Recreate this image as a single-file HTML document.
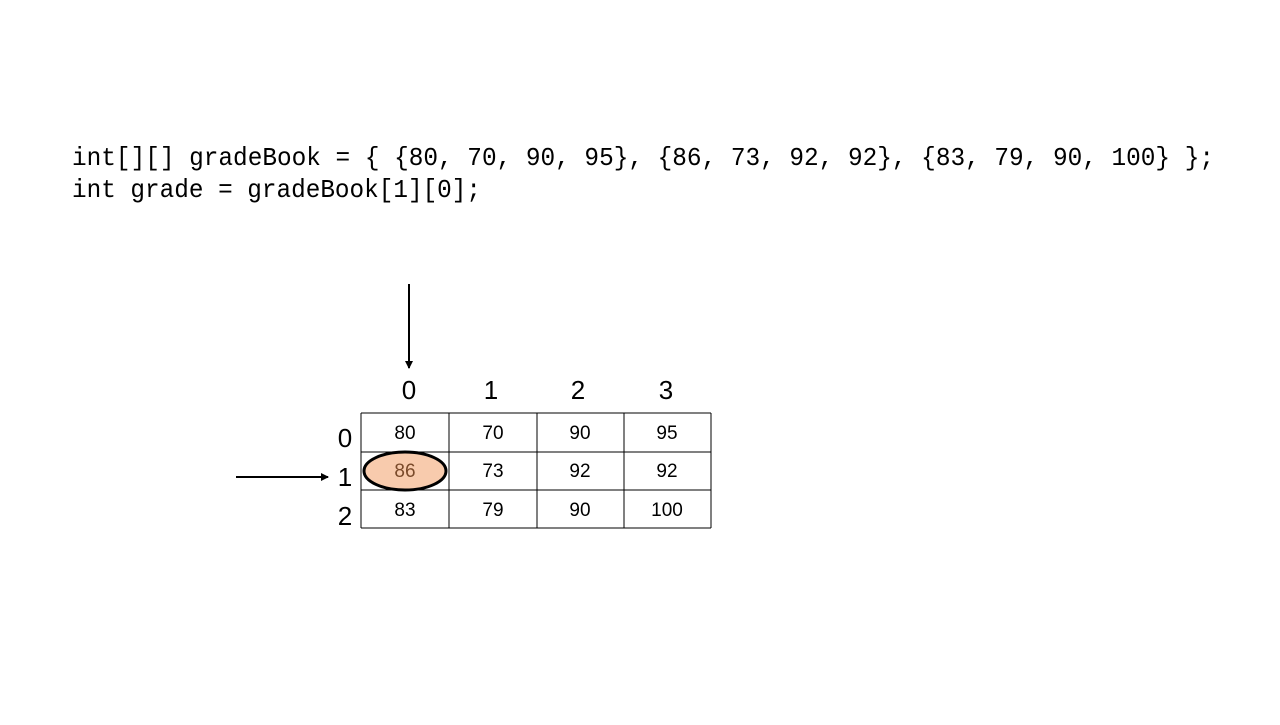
<!DOCTYPE html>
<html><head><style>
body{margin:0;width:1280px;height:720px;background:#fff;overflow:hidden}
</style></head><body>
<svg width="1280" height="720" xmlns="http://www.w3.org/2000/svg">
<defs><marker id="a" markerWidth="8" markerHeight="8" refX="7" refY="4" orient="auto" markerUnits="userSpaceOnUse"><path d="M0,0 L8,4 L0,8 z" fill="#000"/></marker></defs>
<g font-family="Liberation Mono, monospace" font-size="26" fill="#000">
<text x="72" y="165" textLength="1142" lengthAdjust="spacingAndGlyphs">int[][] gradeBook = { {80, 70, 90, 95}, {86, 73, 92, 92}, {83, 79, 90, 100} };</text>
<text x="72" y="197" textLength="409" lengthAdjust="spacingAndGlyphs">int grade = gradeBook[1][0];</text>
</g>
<line x1="409" y1="284" x2="409" y2="368" stroke="#000" stroke-width="2" marker-end="url(#a)"/>
<line x1="236" y1="477" x2="328" y2="477" stroke="#000" stroke-width="2" marker-end="url(#a)"/>
<g stroke="#000" stroke-width="1">
<line x1="361" y1="413" x2="711" y2="413"/><line x1="361" y1="452" x2="711" y2="452"/>
<line x1="361" y1="490" x2="711" y2="490"/><line x1="361" y1="528" x2="711" y2="528"/>
<line x1="361" y1="413" x2="361" y2="528"/><line x1="449" y1="413" x2="449" y2="528"/>
<line x1="537" y1="413" x2="537" y2="528"/><line x1="624" y1="413" x2="624" y2="528"/>
<line x1="711" y1="413" x2="711" y2="528"/>
</g>
<ellipse cx="405" cy="471" rx="41" ry="19" fill="#f8cbad" stroke="#000" stroke-width="3"/>
<g font-family="Liberation Sans, sans-serif" font-size="26" text-anchor="middle" fill="#000">
<text x="409" y="399">0</text><text x="491" y="399">1</text><text x="578" y="399">2</text><text x="666" y="399">3</text>
<text x="345" y="447">0</text><text x="345" y="486">1</text><text x="345" y="525">2</text>
</g>
<g font-family="Liberation Sans, sans-serif" font-size="19" text-anchor="middle" fill="#000">
<text x="405" y="439">80</text><text x="493" y="439">70</text><text x="580" y="439">90</text><text x="667" y="439">95</text>
<text x="405" y="477" fill="#7a4a2a">86</text><text x="493" y="477">73</text><text x="580" y="477">92</text><text x="667" y="477">92</text>
<text x="405" y="516">83</text><text x="493" y="516">79</text><text x="580" y="516">90</text><text x="667" y="516">100</text>
</g>
</svg>
</body></html>
